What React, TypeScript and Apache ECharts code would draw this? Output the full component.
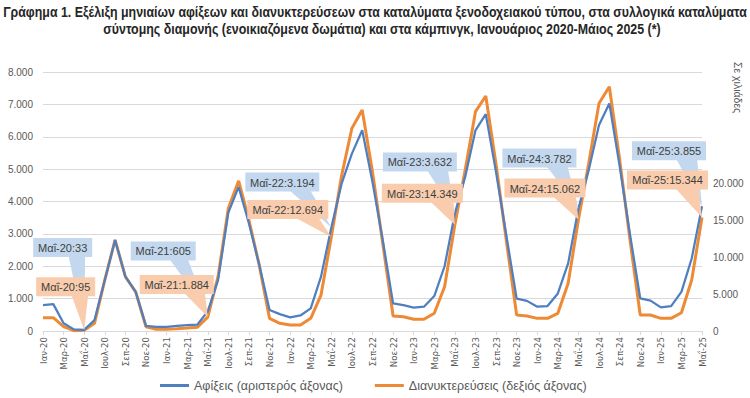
import React, { useEffect, useRef } from 'react';
import * as echarts from 'echarts';

const categories = [
  'Ιαν-20','Φεβ-20','Μαρ-20','Απρ-20','Μαΐ-20','Ιουν-20','Ιουλ-20','Αυγ-20','Σεπ-20','Οκτ-20','Νοε-20','Δεκ-20',
  'Ιαν-21','Φεβ-21','Μαρ-21','Απρ-21','Μαΐ-21','Ιουν-21','Ιουλ-21','Αυγ-21','Σεπ-21','Οκτ-21','Νοε-21','Δεκ-21',
  'Ιαν-22','Φεβ-22','Μαρ-22','Απρ-22','Μαΐ-22','Ιουν-22','Ιουλ-22','Αυγ-22','Σεπ-22','Οκτ-22','Νοε-22','Δεκ-22',
  'Ιαν-23','Φεβ-23','Μαρ-23','Απρ-23','Μαΐ-23','Ιουν-23','Ιουλ-23','Αυγ-23','Σεπ-23','Οκτ-23','Νοε-23','Δεκ-23',
  'Ιαν-24','Φεβ-24','Μαρ-24','Απρ-24','Μαΐ-24','Ιουν-24','Ιουλ-24','Αυγ-24','Σεπ-24','Οκτ-24','Νοε-24','Δεκ-24',
  'Ιαν-25','Φεβ-25','Μαρ-25','Απρ-25','Μαΐ-25',
];

// Αφίξεις (χιλιάδες) – αριστερός άξονας
const arrivals = [
  800, 830, 240, 50, 33, 340, 1570, 2810, 1680, 1210, 160, 130,
  130, 160, 180, 200, 605, 1570, 3660, 4450, 3320, 2050, 650, 520,
  420, 480, 700, 1680, 3194, 4550, 5480, 6200, 4600, 2800, 850, 800,
  720, 750, 1080, 2000, 3632, 4760, 6200, 6700, 4900, 2950, 1000, 930,
  750, 770, 1160, 2090, 3782, 4970, 6360, 7030, 5100, 3000, 1010, 940,
  730, 770, 1210, 2240, 3855,
];

// Διανυκτερεύσεις (χιλιάδες) – δεξιός άξονας
const nights = [
  1800, 1800, 580, 40, 95, 1040, 6900, 12300, 7340, 5300, 580, 230,
  250, 300, 400, 520, 1884, 7340, 16580, 20300, 15000, 8900, 1710, 1040,
  810, 810, 1710, 4860, 12694, 21000, 27400, 29860, 21500, 11800, 2030, 1930,
  1580, 1580, 2390, 5990, 14349, 21760, 29640, 31760, 22500, 12200, 2160, 2030,
  1710, 1710, 2390, 6450, 15062, 22660, 30770, 33010, 23200, 12400, 2160, 2160,
  1710, 1710, 2470, 6890, 15344,
];

const calloutMonths = ['Μαΐ-20', 'Μαΐ-21', 'Μαΐ-22', 'Μαΐ-23', 'Μαΐ-24', 'Μαΐ-25'];

const seriesNames = ['Αφίξεις (αριστερός άξονας)', 'Διανυκτερεύσεις (δεξιός άξονας)'];
const titleLines = [
  'Γράφημα 1. Εξέλιξη μηνιαίων αφίξεων και διανυκτερεύσεων στα καταλύματα ξενοδοχειακού τύπου, στα συλλογικά καταλύματα',
  'σύντομης διαμονής (ενοικιαζόμενα δωμάτια) και στα κάμπινγκ, Ιανουάριος 2020-Μάιος 2025 (*)',
];
const rightAxisName = 'Σε χιλιάδες';

// layout offsets of callout boxes relative to their data point (px)
const blueOffsets = [[-51, -92], [-77, -70], [-86, -55], [-72, -61], [-76, -60], [-70, -65]];
const orangeOffsets = [[-48, -53], [-68, -42], [-84, -37], [-73, -41], [-74, -41], [-75, -47]];

const BLUE = '#4F7FBF';
const ORANGE = '#EE8A36';
const BLUE_FILL = '#C3D8EF';
const ORANGE_FILL = '#F8CCAC';
const FONT = '"Liberation Sans", Arial, sans-serif';
const NARROW = '"DejaVu Sans Condensed", "Liberation Sans", sans-serif';

const fmt = (n: number) => String(n).replace(/\B(?=(\d{3})+(?!\d))/g, '.');

export default function App() {
  const ref = useRef<HTMLDivElement>(null);
  useEffect(() => {
    document.body.style.margin = '0';
    const chart = echarts.init(ref.current!, null, { renderer: 'svg' });
    chart.setOption({
      animation: false,
      grid: { left: 43, right: 48, top: 72, bottom: 67 },
      legend: {
        data: seriesNames,
        left: 155,
        top: 374,
        icon: 'rect',
        itemWidth: 29,
        itemHeight: 3,
        itemGap: 32,
        textStyle: { fontFamily: FONT, fontSize: 12.5, color: '#595959' },
      },
      xAxis: {
        type: 'category',
        data: categories,
        boundaryGap: false,
        axisLine: { lineStyle: { color: '#D9D9D9' } },
        axisTick: { show: true, interval: 1, length: 4, lineStyle: { color: '#D9D9D9' } },
        axisLabel: { interval: 1, rotate: 90, fontSize: 9.5, color: '#595959', fontFamily: NARROW, margin: 6 },
      },
      yAxis: [
        {
          type: 'value',
          min: 0,
          max: 8000,
          interval: 1000,
          axisLine: { show: false },
          axisTick: { show: false },
          splitLine: { lineStyle: { color: '#D9D9D9' } },
          axisLabel: { formatter: (v: number) => fmt(v), fontSize: 10, color: '#595959', fontFamily: FONT, margin: 10 },
        },
        {
          type: 'value',
          min: 0,
          max: 35000,
          interval: 5000,
          axisLine: { show: false },
          axisTick: { show: false },
          splitLine: { show: false },
          axisLabel: {
            formatter: (v: number) => (v > 20000 ? '' : fmt(v)),
            fontSize: 10, color: '#595959', fontFamily: FONT, margin: 11,
          },
        },
      ],
      series: [
        {
          name: seriesNames[0], type: 'line', data: arrivals, yAxisIndex: 0,
          symbol: 'none', lineStyle: { color: BLUE, width: 2.25 }, itemStyle: { color: BLUE }, z: 3,
        },
        {
          name: seriesNames[1], type: 'line', data: nights, yAxisIndex: 1,
          symbol: 'none', lineStyle: { color: ORANGE, width: 3 }, itemStyle: { color: ORANGE }, z: 2,
        },
      ],
    });

    const ctx = document.createElement('canvas').getContext('2d')!;
    const graphics: any[] = [];

    // title: condensed to the reference width
    const titleFont = 'bold 14px ' + FONT;
    ctx.font = titleFont;
    const titleScale = 744 / ctx.measureText(titleLines[0]).width;
    graphics.push({
      type: 'text', x: 375, y: 12, scaleX: titleScale, silent: true,
      style: { text: titleLines[0], fill: '#262626', font: titleFont, align: 'center', verticalAlign: 'middle' },
    });
    graphics.push({
      type: 'text', x: 382, y: 29, scaleX: titleScale, silent: true,
      style: { text: titleLines[1], fill: '#262626', font: titleFont, align: 'center', verticalAlign: 'middle' },
    });

    const calloutFont = '11px ' + FONT;
    ctx.font = calloutFont;
    const makeCallout = (seriesIndex: number, values: number[], offsets: number[][], fill: string, zBase: number) => {
      calloutMonths.forEach((m, k) => {
        const idx = categories.indexOf(m);
        const val = values[idx];
        const [px, py] = chart.convertToPixel({ seriesIndex }, [idx, val]) as number[];
        const text = `${m}:${fmt(val)}`;
        const w = Math.round(ctx.measureText(text).width + 10);
        const h = 19;
        const bx = px + offsets[k][0];
        const by = py + offsets[k][1];
        graphics.push({
          type: 'polygon', z: zBase, silent: true,
          shape: { points: [[bx + w * 0.6, by + h - 1], [bx + w * 0.88, by + h - 1], [px, py]] },
          style: { fill },
        });
        graphics.push({ type: 'rect', z: zBase, silent: true, shape: { x: bx, y: by, width: w, height: h }, style: { fill } });
        graphics.push({
          type: 'text', z: zBase + 1, silent: true, x: bx + w / 2, y: by + h / 2 + 0.5,
          style: { text, fill: '#404040', font: calloutFont, align: 'center', verticalAlign: 'middle' },
        });
      });
    };
    makeCallout(0, arrivals, blueOffsets, BLUE_FILL, 10);
    makeCallout(1, nights, orangeOffsets, ORANGE_FILL, 12);
    graphics.push({
      type: 'text', x: 738, y: 62, rotation: -Math.PI / 2, silent: true,
      style: { text: rightAxisName, fill: '#595959', font: '10.5px ' + FONT, align: 'left', verticalAlign: 'middle' },
    });
    chart.setOption({ graphic: graphics });

    return () => chart.dispose();
  }, []);
  return <div ref={ref} style={{ width: 750, height: 398 }} />;
}
